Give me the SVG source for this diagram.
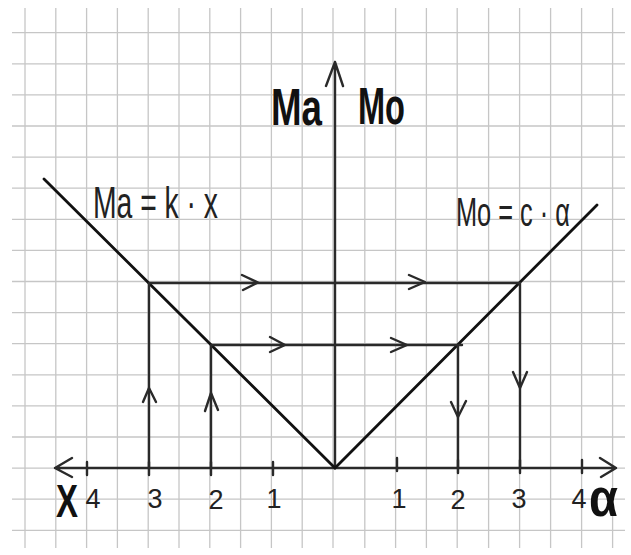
<svg xmlns="http://www.w3.org/2000/svg" width="631" height="555" viewBox="0 0 631 555">
<defs>
<style>
.grid line{stroke:#c6c6c6;stroke-width:1.3}
.ln{stroke:#2a2a2a;stroke-width:2.4;fill:none;stroke-linecap:round;stroke-linejoin:round}
.curve{stroke:#111;stroke-width:2.8;fill:none;stroke-linecap:round}
.t{font-family:"Liberation Sans",Arial,sans-serif;fill:#222}
.b{font-weight:bold;fill:#111}
.num{font-size:27px;text-anchor:middle}
</style>
</defs>
<rect width="631" height="555" fill="#ffffff"/>
<g id="grid" class="grid">
<line x1="25" y1="8" x2="25" y2="548"/><line x1="55.8" y1="8" x2="55.8" y2="548"/><line x1="86.6" y1="8" x2="86.6" y2="548"/><line x1="117.4" y1="8" x2="117.4" y2="548"/><line x1="148.2" y1="8" x2="148.2" y2="548"/><line x1="179" y1="8" x2="179" y2="548"/><line x1="209.8" y1="8" x2="209.8" y2="548"/><line x1="240.6" y1="8" x2="240.6" y2="548"/><line x1="271.4" y1="8" x2="271.4" y2="548"/><line x1="302.2" y1="8" x2="302.2" y2="548"/><line x1="333" y1="8" x2="333" y2="548"/><line x1="364.8" y1="8" x2="364.8" y2="548"/><line x1="395.6" y1="8" x2="395.6" y2="548"/><line x1="426.4" y1="8" x2="426.4" y2="548"/><line x1="457.2" y1="8" x2="457.2" y2="548"/><line x1="488.6" y1="8" x2="488.6" y2="548"/><line x1="519.6" y1="8" x2="519.6" y2="548"/><line x1="550.6" y1="8" x2="550.6" y2="548"/><line x1="581.6" y1="8" x2="581.6" y2="548"/><line x1="612.6" y1="8" x2="612.6" y2="548"/>
<line x1="12" y1="32.7" x2="625" y2="32.7"/><line x1="12" y1="63.8" x2="625" y2="63.8"/><line x1="12" y1="94.9" x2="625" y2="94.9"/><line x1="12" y1="126" x2="625" y2="126"/><line x1="12" y1="157.1" x2="625" y2="157.1"/><line x1="12" y1="188.2" x2="625" y2="188.2"/><line x1="12" y1="219.3" x2="625" y2="219.3"/><line x1="12" y1="250.4" x2="625" y2="250.4"/><line x1="12" y1="281.5" x2="625" y2="281.5"/><line x1="12" y1="312.6" x2="625" y2="312.6"/><line x1="12" y1="343.7" x2="625" y2="343.7"/><line x1="12" y1="374.8" x2="625" y2="374.8"/><line x1="12" y1="405.9" x2="625" y2="405.9"/><line x1="12" y1="437" x2="625" y2="437"/><line x1="12" y1="468.1" x2="625" y2="468.1"/><line x1="12" y1="499.2" x2="625" y2="499.2"/><line x1="12" y1="530.3" x2="625" y2="530.3"/>
</g>
<g id="axes" class="ln">
<path d="M335 468 L335 62 M326 86 L335 62 L343 86"/>
<path d="M55 468 L616 468 M72 458 L55 468 L72 477 M600 458 L616 468 L601 477"/>
<path d="M87 462 V475 M149 462 V475 M211 462 V475 M273 462 V475 M397 458 V471 M458 460 V473 M520 460 V473 M582 460 V473"/>
</g>
<g id="curves" class="curve">
<path d="M44 179 L335 468 L597 205"/>
</g>
<g id="connectors" class="ln">
<path d="M149 468 V283 H520 V468"/>
<path d="M211 468 V345 H462 M458 345 V468"/>
<path d="M242 275 L258 282.5 L243 290 M409 275 L425 282 L409 289"/>
<path d="M270 337 L285 345 L270 352 M391 338 L407 345 L391 352"/>
<path d="M143 402 L149 388 L156 402 M205 411 L211 393 L218 410"/>
<path d="M451 402 L458 417 L466 401 M513 372 L520 388 L527 372"/>
</g>
<g id="labels">
<text class="t b" x="271" y="125" font-size="52" textLength="51" lengthAdjust="spacingAndGlyphs">Ma</text>
<text class="t b" x="358" y="124" font-size="52" textLength="47" lengthAdjust="spacingAndGlyphs">Mo</text>
<text class="t" x="93" y="218" font-size="44" textLength="125" lengthAdjust="spacingAndGlyphs">Ma = k · x</text>
<text class="t" x="456" y="226" font-size="40" textLength="114" lengthAdjust="spacingAndGlyphs">Mo = c · α</text>
<text class="t b" x="56" y="517" font-size="46" textLength="22" lengthAdjust="spacingAndGlyphs">X</text>
<text class="t b" x="589" y="516" font-size="54" textLength="29" lengthAdjust="spacingAndGlyphs">α</text>
<g class="t num">
<text x="93" y="508">4</text><text x="155" y="508">3</text><text x="216" y="509">2</text><text x="274" y="508">1</text>
<text x="399" y="508">1</text><text x="458" y="509">2</text><text x="519" y="508">3</text><text x="579" y="508">4</text>
</g>
</g>
</svg>
